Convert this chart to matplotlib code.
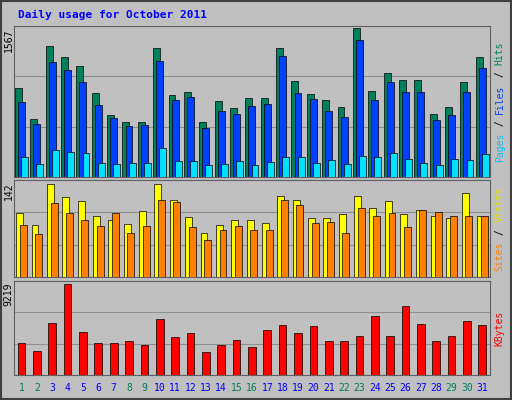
import matplotlib
matplotlib.use("Agg")
import matplotlib.pyplot as plt
from matplotlib.patches import Rectangle

days = list(range(1, 32))
weekend = [1, 2, 8, 9, 15, 16, 22, 23, 29, 30]
hits = [936,610,1378,1262,1168,884,652,579,579,1357,863,894,579,800,726,831,831,1357,1010,873,810,736,1567,905,1094,1020,1020,663,736,999,1262]
files = [789,558,1210,1126,999,757,621,537,547,1220,810,842,515,694,663,747,768,1273,884,821,694,631,1441,810,999,894,894,600,652,894,1147]
pages = [210,137,284,263,252,147,137,147,147,305,168,168,126,137,168,126,158,210,210,147,179,137,221,210,252,189,147,126,189,179,242]
visits = [98,79,142,122,116,93,87,81,101,142,118,92,67,79,87,87,82,124,118,90,90,96,124,105,116,96,102,93,90,128,93]
sites = [79,66,113,98,87,78,98,67,78,118,115,76,56,72,78,72,72,118,110,82,84,67,105,93,98,76,102,99,93,93,93]
kbytes = [3242,2431,5268,9219,4356,3242,3242,3444,3039,5673,3849,4255,2330,3039,3546,2836,4559,5065,4255,4964,3444,3444,3951,5977,3951,6990,5166,3444,3951,5470,5065]

BG = "#C0C0C0"
fig = plt.figure(figsize=(5.12, 4.0), dpi=100, facecolor=BG)
mono = "DejaVu Sans Mono"

def panel(bottom, height, ymax):
    ax = fig.add_axes([0.027, bottom, 0.93, height], facecolor=BG)
    ax.set_xlim(0.5, 31.5)
    ax.set_ylim(0, ymax)
    ax.set_xticks([]); ax.set_yticks([])
    for s in ax.spines.values():
        s.set_color("#606060")
    for f in (1/3, 2/3):
        ax.axhline(ymax * f, color="#909090", lw=0.8, zorder=0)
    return ax

ax1 = panel(0.5575, 0.3775, 1588)
ax2 = panel(0.3075, 0.2425, 148)
ax3 = panel(0.0625, 0.235, 9523)

w = 0.45
kw = dict(edgecolor="#000000", linewidth=0.5, zorder=3)
ax1.bar([d - 0.2 for d in days], hits, w, color="#00805C", **kw)
ax1.bar(days, files, w, color="#0040FF", **kw)
ax1.bar([d + 0.2 for d in days], pages, w, color="#00E0FF", **kw)
ax2.bar([d - 0.12 for d in days], visits, w, color="#FFFF00", **kw)
ax2.bar([d + 0.12 for d in days], sites, w, color="#FF8000", **kw)
ax3.bar(days, kbytes, 0.5, color="#FF0000", **kw)

fig.text(0.035, 0.975, "Daily usage for October 2011", color="#0000FF",
         family=mono, weight="bold", fontsize=8, va="top")
for ax, lab in ((ax1, "1567"), (ax2, "142"), (ax3, "9219")):
    b = ax.get_position()
    fig.text(0.027, b.y1 - 0.005, lab, rotation=90, va="top", ha="right",
             family=mono, fontsize=7)

def rlabel(ax, parts):
    b = ax.get_position()
    y = (b.y0 + b.y1) / 2
    total = sum(len(t) for t, c in parts)
    step = 0.0152
    ystart = y - total * step / 2
    for t, c in parts:
        fig.text(0.976, ystart, t, rotation=90, va="bottom", ha="center",
                 color=c, family=mono, fontsize=7)
        ystart += len(t) * step

rlabel(ax1, [("Pages", "#00C0FF"), (" / ", "#000000"), ("Files", "#0040FF"), (" / ", "#000000"), ("Hits", "#00805C")])
rlabel(ax2, [("Sites", "#FF8000"), (" / ", "#000000"), ("Visits", "#E0E000")])
rlabel(ax3, [("KBytes", "#FF0000")])

for d in days:
    x = 0.027 + 0.93 * (d - 0.5) / 31
    fig.text(x, 0.03, str(d), ha="center", va="center", fontsize=7, family=mono,
             color="#00805C" if d in weekend else "#0000FF")

fig.patches.append(Rectangle((0.002, 0.003), 0.996, 0.994, transform=fig.transFigure,
                             fill=False, edgecolor="#404040", lw=1.5))
fig.savefig("out.png", dpi=100, facecolor=BG)
